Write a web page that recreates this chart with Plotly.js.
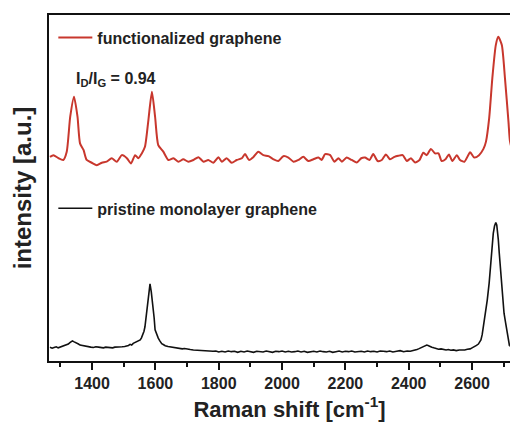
<!DOCTYPE html>
<html>
<head>
<meta charset="utf-8">
<script src="https://cdn.plot.ly/plotly-3.0.1.min.js"></script>
<style>
html,body{margin:0;padding:0;overflow:hidden;background:#fff;}
#chart{width:530px;height:425px;}
</style>
</head>
<body>
<div id="chart"></div>
<script>
// Raman shift (cm^-1) and intensity (a.u.)
const funcShift = [1267,1278,1294,1309,1320,1331,1343,1354,1362,1373,1383,1399,1415,1431,1446,1462,1478,1494,1510,1523,1536,1546,1557,1567,1578,1589,1599,1609,1625,1641,1657,1673,1688,1704,1720,1736,1752,1767,1783,1799,1810,1825,1841,1857,1873,1883,1896,1909,1925,1941,1957,1973,1988,2004,2020,2036,2052,2067,2083,2099,2115,2125,2136,2152,2165,2178,2189,2204,2220,2236,2250,2262,2276,2288,2302,2315,2328,2341,2355,2367,2381,2394,2407,2420,2434,2446,2457,2470,2483,2494,2504,2517,2527,2538,2552,2562,2576,2594,2607,2622,2636,2644,2654,2664,2675,2683,2694,2704,2715,2720,2730,2745,2760,2780];
const funcInt = [59.0,59.5,58.6,58.1,60.5,70.6,76.4,70.6,62.9,61.0,58.1,57.3,56.6,57.3,57.6,58.6,57.6,59.5,58.6,57.1,59.5,58.6,60.0,61.9,69.7,77.8,70.6,62.4,60.5,58.1,58.6,57.6,58.3,57.6,58.1,58.9,57.6,58.1,57.3,58.9,57.6,58.6,57.3,58.1,58.6,59.8,58.1,58.9,60.5,59.5,59.2,58.3,57.8,59.2,58.8,57.6,58.1,59.0,57.8,58.3,58.8,58.1,59.8,59.5,57.6,58.6,57.6,58.8,58.1,57.4,58.6,58.8,58.1,59.8,57.8,58.1,59.7,58.3,59.0,59.3,59.5,57.8,58.6,57.4,58.1,60.2,59.5,61.3,60.0,60.0,57.8,58.4,59.7,57.8,59.5,58.1,57.6,60.3,58.8,59.5,61.3,63.4,70.1,81.7,91.3,93.7,91.3,81.7,69.2,63.4,60.5,59.0,58.5,59.0];

const pristShift = [1267,1274,1280,1287,1293,1299,1305,1310,1315,1320,1325,1330,1334,1338,1342,1345,1349,1352,1357,1362,1367,1373,1380,1388,1396,1404,1412,1420,1428,1436,1443,1450,1458,1465,1472,1478,1486,1495,1503,1510,1515,1520,1525,1530,1536,1542,1547,1552,1556,1560,1564,1567,1571,1575,1579,1583,1587,1592,1596,1599,1604,1609,1614,1620,1626,1631,1640,1650,1658,1667,1676,1685,1692,1699,1710,1720,1730,1740,1750,1760,1771,1782,1791,1800,1810,1820,1830,1840,1850,1860,1870,1880,1890,1900,1910,1920,1930,1940,1950,1960,1970,1980,1990,2000,2010,2020,2030,2040,2050,2060,2070,2080,2090,2100,2110,2120,2130,2140,2150,2160,2170,2180,2190,2200,2210,2220,2230,2240,2250,2260,2270,2280,2290,2300,2310,2320,2330,2340,2350,2362,2373,2384,2395,2405,2415,2421,2426,2431,2436,2442,2447,2452,2457,2461,2465,2469,2473,2479,2484,2489,2494,2502,2510,2518,2525,2533,2541,2550,2560,2568,2577,2585,2594,2600,2607,2614,2620,2624,2628,2632,2636,2642,2648,2654,2659,2663,2667,2671,2675,2678,2680,2683,2686,2690,2694,2698,2701,2706,2710,2714,2718,2730,2750,2780];
const pristInt = [4.0,3.7,3.9,4.1,3.8,4.0,4.2,4.3,4.4,4.6,4.9,5.3,5.6,5.8,5.6,5.5,5.3,5.1,4.9,4.6,4.5,4.3,4.2,4.1,4.0,3.9,4.1,4.0,3.8,3.8,4.0,3.9,3.7,3.8,4.0,4.0,3.9,4.1,4.2,4.3,4.5,4.8,4.6,5.1,5.4,5.6,5.9,6.1,6.7,7.6,8.6,9.9,12.8,16.7,20.0,22.3,20.0,16.7,12.5,9.0,7.6,6.6,5.8,5.0,4.7,4.4,4.2,4.0,3.9,3.7,3.6,3.5,3.6,3.4,3.3,3.2,3.1,3.1,3.0,2.9,2.7,2.8,2.9,2.6,2.8,2.6,2.9,2.7,2.8,2.5,2.8,2.6,2.9,2.7,2.5,2.8,2.7,2.6,2.9,2.7,2.5,2.8,2.7,2.9,2.6,2.8,2.6,2.7,2.9,2.6,2.8,2.5,2.7,2.8,2.6,2.9,2.7,2.6,2.8,2.5,2.7,2.9,2.6,2.8,2.7,2.9,2.6,2.7,2.8,2.6,2.9,2.7,2.8,2.6,2.9,2.8,2.7,2.9,2.6,2.8,3.0,2.7,2.9,2.8,3.0,3.0,3.3,3.5,3.7,4.0,4.2,4.5,4.6,4.5,4.4,4.1,4.0,3.8,3.7,3.6,3.4,3.5,3.3,3.2,3.3,3.1,3.2,3.0,3.2,3.1,3.2,3.4,3.5,3.8,4.1,4.5,4.9,5.5,6.1,7.6,9.9,13.2,17.6,22.5,29.2,33.5,36.9,39.0,40.0,39.3,37.9,35.0,31.1,26.0,21.5,17.0,13.8,11.0,9.0,6.0,4.5,3.8];

const seriesNames = ['functionalized graphene','pristine monolayer graphene'];
const xTitle = 'Raman shift [cm<sup>-1</sup>]';
const yTitle = 'intensity [a.u.]';
const ratioLabel = 'I<sub>D</sub>/I<sub>G</sub> = 0.94';

const textColor = '#222222';
const fontFam = 'Liberation Sans, Arial, sans-serif';

const traces = [
  {x: funcShift, y: funcInt, type: 'scatter', mode: 'lines', name: seriesNames[0],
   line: {color: '#c8372d', width: 2, shape: 'spline', smoothing: 0.6}, legend: 'legend'},
  {x: pristShift, y: pristInt, type: 'scatter', mode: 'lines', name: seriesNames[1],
   line: {color: '#111111', width: 1.6}, legend: 'legend2'}
];

const legendFont = {family: fontFam, size: 16, color: textColor, weight: 'bold'};

const layout = {
  width: 530, height: 425,
  margin: {l: 49, r: 0, t: 15, b: 64},
  paper_bgcolor: '#fff', plot_bgcolor: '#fff',
  showlegend: true,
  legend: {x: 0.009, y: 0.935, xanchor: 'left', yanchor: 'middle', font: legendFont,
           bgcolor: 'rgba(0,0,0,0)', borderwidth: 0, itemwidth: 34},
  legend2: {x: 0.009, y: 0.441, xanchor: 'left', yanchor: 'middle', font: legendFont,
           bgcolor: 'rgba(0,0,0,0)', borderwidth: 0, itemwidth: 34},
  xaxis: {
    range: [1264, 2783], showgrid: false, zeroline: false,
    showline: true, linecolor: '#111', linewidth: 2, mirror: true,
    ticks: 'outside', ticklen: 7, tickwidth: 2, tickcolor: '#111',
    tick0: 1400, dtick: 200,
    minor: {ticks: 'outside', ticklen: 4, tickwidth: 2, tickcolor: '#111', dtick: 100, tick0: 1300, showgrid: false},
    tickfont: {family: fontFam, size: 16, color: textColor, weight: 'bold'},
    title: {text: xTitle, font: {family: fontFam, size: 22, color: textColor, weight: 'bold'}, standoff: 10}
  },
  yaxis: {
    range: [0, 100], showgrid: false, zeroline: false,
    showline: true, linecolor: '#111', linewidth: 2, mirror: true,
    ticks: '', showticklabels: false,
    title: {text: yTitle, font: {family: fontFam, size: 24, color: textColor, weight: 'bold'}, standoff: 9}
  },
  annotations: [
    {x: 1475, y: 81.5, xref: 'x', yref: 'y', text: ratioLabel, showarrow: false,
     font: {family: fontFam, size: 16, color: textColor, weight: 'bold'}}
  ]
};

Plotly.newPlot('chart', traces, layout, {displayModeBar: false, staticPlot: true});
</script>
</body>
</html>
